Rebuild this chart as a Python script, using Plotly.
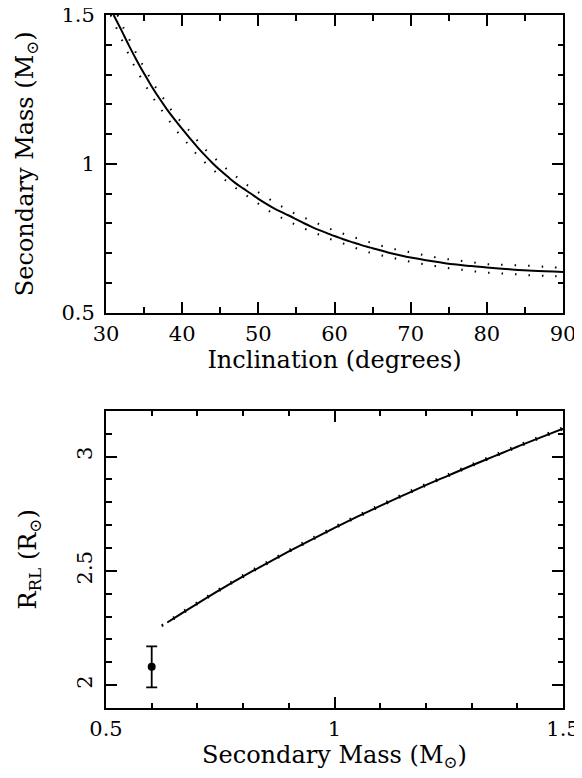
import plotly.graph_objects as go

# --- top panel: secondary mass vs inclination ---
incl = [31.0, 32, 33, 34, 35, 36, 37, 38, 39, 40, 41, 42, 43, 44, 45, 46, 47, 48, 49, 50,
        51, 52, 53, 54, 55, 56, 57, 58, 59, 60, 61, 62, 63, 64, 65, 66, 67, 68, 69, 70,
        72, 74, 76, 78, 80, 83, 86, 90]
mass = [1.500, 1.450, 1.398, 1.349, 1.303, 1.260, 1.220, 1.183, 1.149, 1.117, 1.086, 1.056,
        1.028, 1.002, 0.978, 0.956, 0.935, 0.917, 0.900, 0.882, 0.866, 0.851, 0.838, 0.826,
        0.813, 0.800, 0.788, 0.777, 0.767, 0.757, 0.748, 0.739, 0.731, 0.723, 0.716, 0.709,
        0.702, 0.696, 0.690, 0.685, 0.676, 0.668, 0.661, 0.656, 0.651, 0.645, 0.640, 0.636]

incl_hi = [31.5, 32.27, 33.19, 34.16, 35.16, 36.21, 37.35, 38.53, 39.89, 41.29, 42.56, 44.09,
           45.62, 47.24, 48.9, 50.65, 52.41, 54.2, 56.1, 58.0, 59.93, 61.8, 63.87, 65.9, 67.9,
           69.9, 71.97, 74.0, 76.0, 78.1, 80.2, 82.2, 84.35, 86.45, 88.5, 90]
mass_hi = [1.500, 1.458, 1.411, 1.362, 1.317, 1.269, 1.227, 1.182, 1.140, 1.101, 1.060, 1.023,
           0.987, 0.954, 0.922, 0.894, 0.866, 0.840, 0.818, 0.797, 0.776, 0.759, 0.742, 0.726,
           0.713, 0.703, 0.692, 0.682, 0.676, 0.669, 0.662, 0.660, 0.658, 0.656, 0.652, 0.651]

incl_lo = [30.62, 30.88, 31.75, 32.63, 33.5, 34.5, 35.56, 36.7, 37.88, 39.1, 40.41, 41.82, 43.3,
           44.88, 46.41, 48.16, 49.87, 51.62, 53.46, 55.3, 57.3, 59.2, 61.15, 63.1, 65.1, 67.1,
           69.1, 71.2, 73.2, 75.3, 77.35, 79.4, 81.5, 83.6, 85.65, 87.7, 90]
mass_lo = [1.500, 1.485, 1.435, 1.387, 1.339, 1.293, 1.247, 1.202, 1.160, 1.116, 1.077, 1.034,
           0.997, 0.962, 0.930, 0.898, 0.868, 0.838, 0.813, 0.790, 0.769, 0.749, 0.732, 0.714,
           0.698, 0.687, 0.675, 0.665, 0.656, 0.648, 0.642, 0.635, 0.632, 0.629, 0.625, 0.623,
           0.621]

# --- bottom panel: Roche lobe radius vs secondary mass ---
m2 = [0.634, 0.65, 0.7, 0.75, 0.8, 0.85, 0.9, 0.95, 1.0, 1.05, 1.1, 1.15, 1.2, 1.25, 1.3,
      1.35, 1.4, 1.45, 1.5]
r_rl = [2.274, 2.294, 2.357, 2.418, 2.476, 2.531, 2.585, 2.637, 2.688, 2.737, 2.784, 2.830,
        2.875, 2.918, 2.961, 3.002, 3.043, 3.083, 3.122]
m2_dot = [0.622, 0.65, 0.7, 0.75, 0.8, 0.85, 0.9, 0.95, 1.0, 1.05, 1.1, 1.15, 1.2, 1.25, 1.3,
          1.35, 1.4, 1.45, 1.5]
r_rl_hi = [2.262, 2.300, 2.363, 2.424, 2.482, 2.537, 2.591, 2.643, 2.694, 2.743, 2.790, 2.836,
           2.881, 2.924, 2.967, 3.008, 3.049, 3.089, 3.128]
r_rl_lo = [2.258, 2.291, 2.354, 2.415, 2.473, 2.528, 2.582, 2.634, 2.685, 2.734, 2.781, 2.827,
           2.872, 2.915, 2.958, 2.999, 3.040, 3.080, 3.119]

obs_m2 = [0.6]
obs_r = [2.08]
obs_err = [0.09]

FONT = "DejaVu Serif"
dots = "1.5px,12px"

fig = go.Figure()

fig.add_trace(go.Scatter(x=incl, y=mass, mode="lines", line=dict(color="black", width=2, shape="spline"),
                         xaxis="x", yaxis="y"))
fig.add_trace(go.Scatter(x=incl_hi, y=mass_hi, mode="lines",
                         line=dict(color="black", width=2, dash=dots, shape="spline"),
                         xaxis="x", yaxis="y"))
fig.add_trace(go.Scatter(x=incl_lo, y=mass_lo, mode="lines",
                         line=dict(color="black", width=2, dash=dots, shape="spline"),
                         xaxis="x", yaxis="y"))

fig.add_trace(go.Scatter(x=m2, y=r_rl, mode="lines", line=dict(color="black", width=2, shape="spline"),
                         xaxis="x2", yaxis="y2"))
fig.add_trace(go.Scatter(x=m2_dot, y=r_rl_hi, mode="lines",
                         line=dict(color="black", width=2, dash=dots, shape="spline"),
                         xaxis="x2", yaxis="y2"))
fig.add_trace(go.Scatter(x=m2_dot, y=r_rl_lo, mode="lines",
                         line=dict(color="black", width=2, dash=dots, shape="spline"),
                         xaxis="x2", yaxis="y2"))
fig.add_trace(go.Scatter(x=obs_m2, y=obs_r, mode="markers",
                         marker=dict(color="black", size=8),
                         error_y=dict(type="data", array=obs_err, color="black",
                                      thickness=1.8, width=5.5),
                         xaxis="x2", yaxis="y2"))

axis_common = dict(
    showline=True, linecolor="black", linewidth=2, mirror="allticks",
    ticks="inside", ticklen=11, tickwidth=1.5, tickcolor="black",
    showgrid=False, zeroline=False, automargin=False, ticklabeloverflow="allow",
    tickfont=dict(family=FONT, size=21, color="black"),
)
minor_common = dict(ticks="inside", ticklen=5.5, tickwidth=1.5, tickcolor="black", showgrid=False)

title_font = dict(family=FONT, size=24, color="black")

# the page body has an 8px margin, so the figure is shifted by 8px in the window
fig.update_layout(
    width=574, height=770,
    margin=dict(l=98, r=19, t=7, b=70),
    paper_bgcolor="white", plot_bgcolor="white",
    showlegend=False,
    xaxis=dict(axis_common, domain=[0, 1], anchor="y", range=[30, 90], dtick=10, tick0=30,
               minor=dict(minor_common, dtick=5), ticklabelstandoff=1,
               title=dict(text="Inclination (degrees)", font=title_font, standoff=5)),
    yaxis=dict(axis_common, domain=[0.5707, 1], anchor="x", range=[0.5, 1.5], dtick=0.5,
               tick0=0.5, minor=dict(minor_common, dtick=0.1), ticklabelstandoff=5,
               title=dict(text="Secondary Mass (M<sub>⊙</sub>)", font=title_font, standoff=21)),
    xaxis2=dict(axis_common, domain=[0, 1], anchor="y2", range=[0.5, 1.5], dtick=0.5, tick0=0.5,
                minor=dict(minor_common, dtick=0.1), ticklabelstandoff=1,
                title=dict(text="Secondary Mass (M<sub>⊙</sub>)", font=title_font, standoff=5)),
    yaxis2=dict(axis_common, domain=[0, 0.4288], anchor="x2", range=[1.9, 3.2], dtick=0.5,
                tick0=2, tickangle=-90, minor=dict(minor_common, dtick=0.1), ticklabelstandoff=4,
                title=dict(text="R<sub>RL</sub> (R<sub>⊙</sub>)", font=title_font, standoff=29)),
)

fig.write_html("out.html")
